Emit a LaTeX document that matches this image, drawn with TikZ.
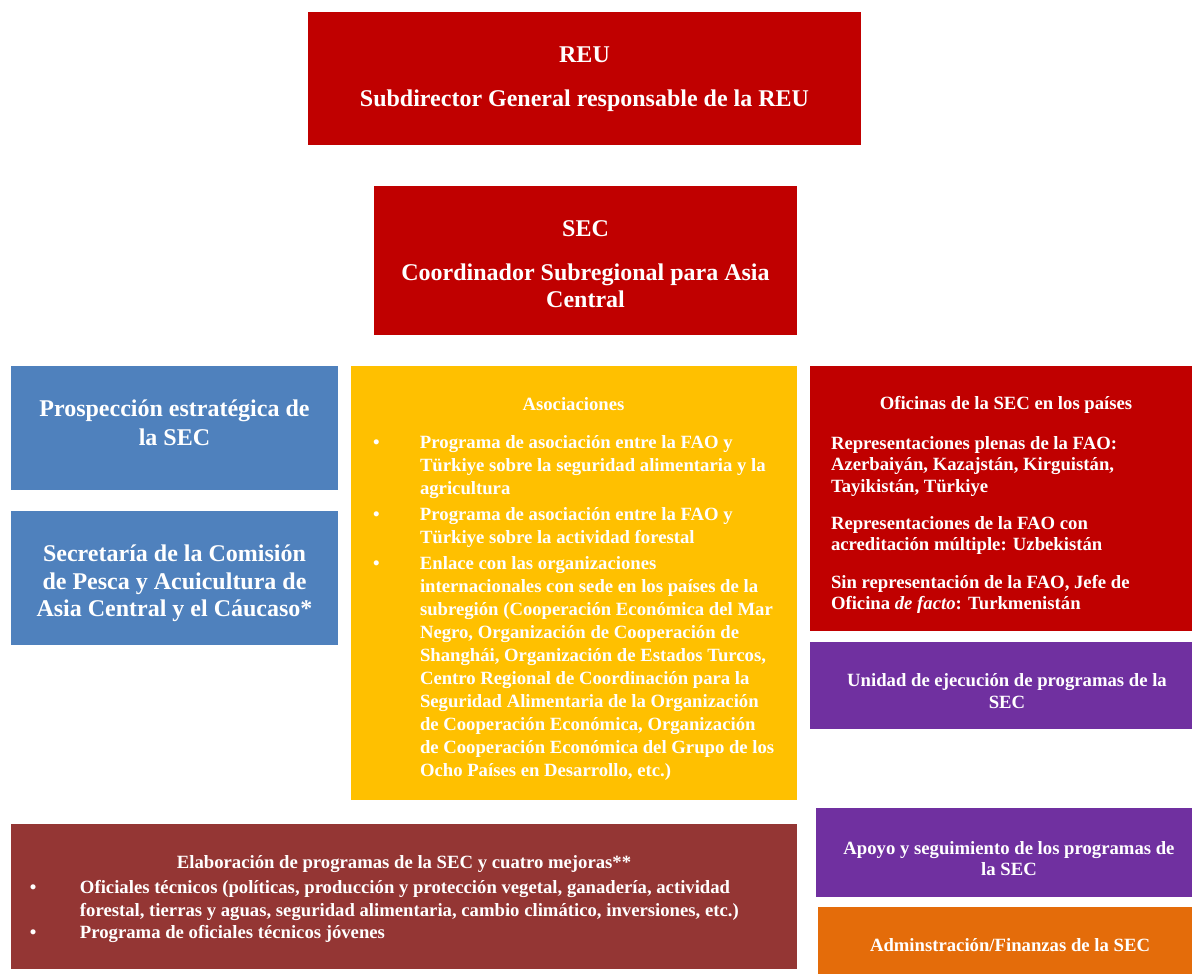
\documentclass[tikz,border=0pt]{standalone}
\usepackage{fontspec}
\setmainfont{Liberation Serif}
\definecolor{secred}{HTML}{C00000}
\definecolor{secblue}{HTML}{4F81BD}
\definecolor{secyellow}{HTML}{FFC000}
\definecolor{secpurple}{HTML}{7030A0}
\definecolor{secorange}{HTML}{E46C0A}
\definecolor{secbrown}{HTML}{943634}
\newcommand\bitem[1]{\par\noindent\hangindent=#1\hangafter=1\makebox[#1][l]{\textbullet}\ignorespaces}
\newcommand\listbox[2]{\begin{minipage}[t]{#1}\rightskip=0pt plus 1fil\parfillskip=0pt plus 1fil\parindent=0pt\parskip=0pt #2\par\end{minipage}}
\begin{document}
\begin{tikzpicture}[x=1pt,y=-1pt,
  box/.style={anchor=north west, inner sep=0pt, outer sep=0pt},
  ctext/.style={anchor=center, inner sep=0pt, outer sep=0pt, text=white, font=\bfseries, align=center},
  ltext/.style={anchor=base west, inner sep=0pt, outer sep=0pt, text=white, font=\bfseries}]
\useasboundingbox (0,0) rectangle (1192,974);
% boxes
\node[box, fill=secred, minimum width=553, minimum height=133] (reu) at (308,12) {};
\node[box, fill=secred, minimum width=423, minimum height=149] (sec) at (374,186) {};
\node[box, fill=secblue, minimum width=327, minimum height=124] (pros) at (11,366) {};
\node[box, fill=secblue, minimum width=327, minimum height=134] (comi) at (11,511) {};
\node[box, fill=secyellow, minimum width=446, minimum height=434] (asoc) at (351,366) {};
\node[box, fill=secred, minimum width=382, minimum height=265] (ofi) at (810,366) {};
\node[box, fill=secpurple, minimum width=382, minimum height=87] (uni) at (810,642) {};
\node[box, fill=secpurple, minimum width=376, minimum height=89] (apo) at (816,808) {};
\node[box, fill=secorange, minimum width=374, minimum height=67] (adm) at (818,907) {};
\node[box, fill=secbrown, minimum width=786, minimum height=145] (ela) at (11,824) {};
% texts
\node[ctext, font=\bfseries\fontsize{24}{25}\selectfont] (reut) at (584.5,79)
  {REU\\[19pt]Subdirector General responsable de la REU};
\node[ctext, font=\bfseries\fontsize{24}{27}\selectfont] (sect) at (585.5,264.5)
  {SEC\\[17pt]Coordinador Subregional para Asia\\Central};
\node[ctext, font=\bfseries\fontsize{24}{29}\selectfont] (prost) at (174.5,422.5)
  {Prospección estratégica de\\la SEC};
\node[ctext, font=\bfseries\fontsize{24}{27.5}\selectfont] (comit) at (174.5,583.5)
  {Secretaría de la Comisión\\de Pesca y Acuicultura de\\Asia Central y el Cáucaso*};
\node[ctext, font=\bfseries\fontsize{18.7}{20}\selectfont] (asoct) at (573.5,404) {Asociaciones};
\node[ltext, font=\bfseries\fontsize{18.7}{23.1}\selectfont] (asocl) at (373,448.5)
 {\listbox{420pt}{\bitem{47pt}Programa de asociación entre la FAO y\newline Türkiye sobre la seguridad alimentaria y la\newline agricultura\par\vspace{2.5pt}
  \bitem{47pt}Programa de asociación entre la FAO y\newline Türkiye sobre la actividad forestal\par\vspace{2.5pt}
  \bitem{47pt}Enlace con las organizaciones\newline internacionales con sede en los países de la\newline subregión (Cooperación Económica del Mar\newline Negro, Organización de Cooperación de\newline Shanghái, Organización de Estados Turcos,\newline Centro Regional de Coordinación para la\newline Seguridad Alimentaria de la Organización\newline de Cooperación Económica, Organización\newline de Cooperación Económica del Grupo de los\newline Ocho Países en Desarrollo, etc.)}};
\node[ctext, font=\bfseries\fontsize{18.7}{20}\selectfont] (ofit) at (1006,405) {Oficinas de la SEC en los países};
\node[ltext, font=\bfseries\fontsize{18.7}{21.3}\selectfont] (ofil) at (831,449.5)
 {\listbox{355pt}{Representaciones plenas de la FAO:\newline Azerbaiyán, Kazajstán, Kirguistán,\newline Tayikistán, Türkiye\par\vspace{16pt}
  Representaciones de la FAO con\newline acreditación múltiple: Uzbekistán\par\vspace{16pt}
  Sin representación de la FAO, Jefe de\newline Oficina \textit{de facto}: Turkmenistán}};
\node[ctext, font=\bfseries\fontsize{18.7}{22}\selectfont] (unit) at (1007,691)
  {Unidad de ejecución de programas de la\\SEC};
\node[ctext, font=\bfseries\fontsize{18.7}{21}\selectfont] (apot) at (1009,858.5)
  {Apoyo y seguimiento de los programas de\\la SEC};
\node[ctext, font=\bfseries\fontsize{18.7}{21}\selectfont] (admt) at (1010,945)
  {Adminstración/Finanzas de la SEC};
\node[ctext, font=\bfseries\fontsize{18.7}{20}\selectfont] (elat) at (404,864)
  {Elaboración de programas de la SEC y cuatro mejoras**};
\node[ltext, font=\bfseries\fontsize{18.7}{22.5}\selectfont] (elal) at (30,893.5)
 {\listbox{760pt}{\bitem{50pt}Oficiales técnicos (políticas, producción y protección vegetal, ganadería, actividad\newline forestal, tierras y aguas, seguridad alimentaria, cambio climático, inversiones, etc.)
  \bitem{50pt}Programa de oficiales técnicos jóvenes}};
\end{tikzpicture}
\end{document}
